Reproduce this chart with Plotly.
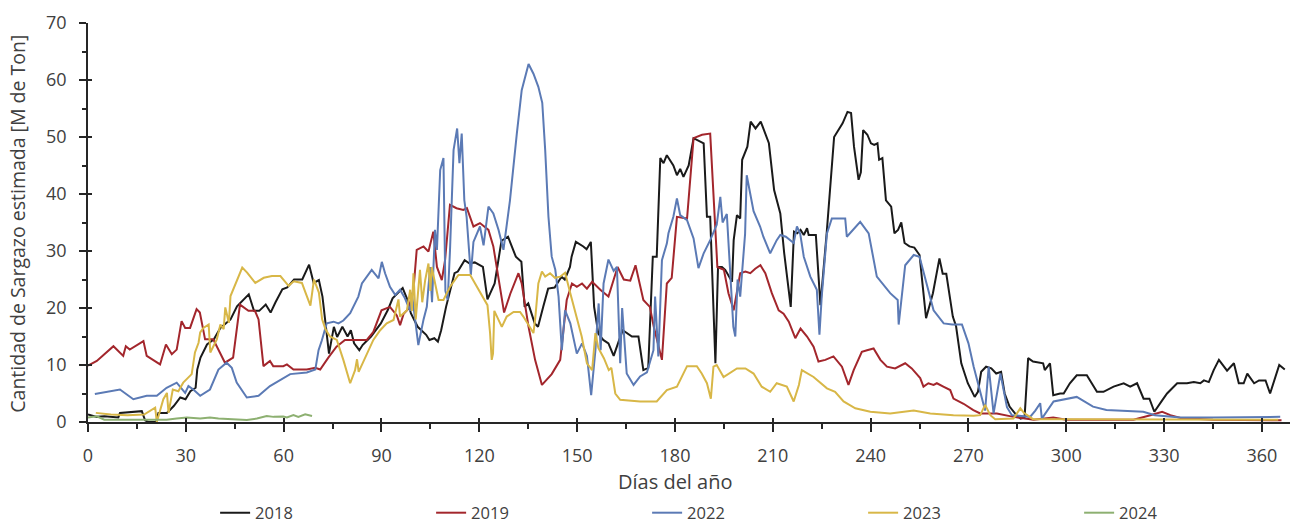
import plotly.graph_objects as go

# ---------------- data (day of year, estimated sargassum [M ton]) ----------------
days_2018 = [0, 2.7, 5, 9.3, 9.8, 13, 16.5, 17.5, 18.5, 20.9, 21.6, 24.2, 26.3, 28.3, 29.9, 31.4, 33, 33.5, 34.5,
             36.5, 38.6, 40.6, 42.5, 43.7, 45.7, 47.3, 49.3, 50.9, 52.5, 54.5, 56, 57.5, 59.6, 61.1, 63.2, 65.7,
             67.8, 69.2, 70.8, 71.9, 73.9, 75.4, 76.4, 78, 79.6, 80.6, 81.6, 83.2, 84.2, 86.8, 89.8, 91.9, 93.4,
             96.5, 98, 99, 101.1, 103.7, 104.7, 106.2, 107.3, 108.3, 109.8, 112.4, 113.4, 115.5, 117, 118.6, 121.1,
             122.5, 124.7, 126.8, 128.8, 131.2, 132.9, 133.9, 135, 137, 138, 139.6, 141.1, 143.1, 145.2, 146.2,
             147.8, 148.3, 149.6, 151.9, 152.9, 154.2, 155.2, 156.5, 158, 159.6, 161.2, 162.9, 164, 166.8, 168.8,
             170.3, 171.8, 173.2, 174.4, 175.5, 176.5, 177.5, 179.5, 180.6, 181.6, 182.6, 184.2, 185.7, 187.8,
             188.8, 189.8, 190.8, 192.4, 193.2, 194.4, 195.4, 197.5, 198, 199, 200, 200.6, 202.2, 203.2, 204.7,
             206.3, 208.8, 210.4, 212.3, 213.5, 215.5, 216.5, 217.5, 218.5, 219.5, 220.5, 221, 223.2, 224.6, 226.5,
             228.8, 231.4, 232.9, 234, 234.9, 236.3, 237, 237.7, 239, 240.1, 241.1, 242.1, 242.6, 243.6, 244.7,
             246.3, 247.3, 248.4, 249.4, 250.4, 251.9, 253.4, 255, 256, 257, 259.1, 261.1, 262.1, 263.2, 265.2,
             266.2, 267.8, 269.8, 271.9, 272.9, 273.9, 275.4, 277, 278.5, 280, 281.1, 282.6, 284.7, 286, 287.2,
             288.3, 289.8, 292.9, 293.4, 295, 296, 298.1, 299.2, 301.1, 303.2, 306.3, 307.3, 309.4, 311.4, 312.5,
             314.5, 317.6, 319.6, 321.7, 323.7, 325.5, 327, 329.4, 330.9, 334, 337, 339.1, 341.1, 342.2, 343.7,
             345.2, 346.8, 349.3, 351.4, 352.9, 354.4, 355.5, 357.6, 359.1, 361.1, 362.5, 365.3, 367]
vals_2018 = [1.3, 0.9, 1.0, 0.8, 1.6, 1.7, 1.9, 0.3, 0, 0, 1.6, 1.6, 2.8, 4.3, 4.0, 5.4, 6, 9.2, 11.3,
             13.6, 14.5, 16.5, 17.5, 18, 20.3, 21.2, 22.4, 19.5, 19.5, 20.6, 19.2, 21, 23.3, 23.6, 25, 25,
             27.6, 24.4, 24.9, 22, 12, 16.7, 14.9, 16.7, 15, 16.1, 13.8, 12.6, 13.5, 15, 17.3, 19.6, 21.7,
             23.5, 21.4, 19.1, 16.7, 15.3, 14.4, 14.7, 14.1, 16.1, 20.2, 26.1, 26.4, 28.4, 27.8, 28, 27.2,
             21.5, 24.3, 31.8, 32.5, 29, 28.1, 20.2, 20.8, 17.3, 16.7, 20.2, 23.4, 23.6, 25.5, 25,
             27.2, 29, 31.6, 30.8, 30.3, 31.6, 20.2, 15.5, 14.4, 13.8, 11.6, 14.4, 16.1, 15, 15,
             9.1, 9.5, 29, 29, 46.3, 45.4, 46.8, 45, 43.3, 44.4, 43, 45, 49.8, 49.2,
             48.9, 36, 36, 10.3, 27.2, 27.2, 26.7, 24.6, 31.9, 36.3, 35.7, 46, 48.3, 52.7, 51.5,
             52.7, 48.9, 40.7, 36.6, 29.6, 20.2, 33.4, 33.1, 33.7, 32.8, 34, 32.8, 32.8, 20.5, 33,
             50, 52.4, 54.4, 54.2, 48.3, 42.5, 43.8, 51.2, 50.4, 48.9, 48.6, 48.9, 46, 46.3, 38.9,
             37.8, 33.1, 33.7, 35, 31.4, 30.8, 30.6, 29.3, 23.7, 18.2, 22.6, 28.7, 26, 26, 18.5,
             16.8, 10.3, 6.8, 4.4, 5.3, 8.8, 9.7, 9.4, 8.5, 8.8, 5, 2.7, 1.2, 0.6, 0.8,
             11.2, 10.6, 10.3, 9.1, 10.3, 4.7, 5, 5, 6.8, 8.2, 8.2, 7.3, 5.3, 5.3, 5.6,
             6.2, 6.8, 6.2, 6.8, 4.1, 4.1, 1.8, 3.8, 5, 6.8, 6.8, 7, 6.8, 7.3, 7,
             9.1, 10.9, 9, 10.3, 6.8, 6.8, 8.5, 6.8, 7.3, 7.3, 5, 10, 9.2]

days_2019 = [0, 2.7, 7.8, 10.8, 11.6, 12.8, 17, 18, 22.1, 23.9, 25.7, 27.2, 28.7, 29.8, 31.3, 33.3, 34.3, 35.9,
             38.4, 42, 44.5, 46.6, 49.2, 51.2, 52.3, 53.8, 55.8, 56.8, 59.9, 61, 63, 67.1, 69.7, 71.2, 73.7, 76.2,
             78.8, 85.5, 87.5, 90, 92.6, 94.7, 95.7, 96.8, 98.3, 99.8, 100.8, 102.9, 104.4, 105.9, 107, 108.5,
             109.5, 111, 113, 115.1, 116.2, 118.2, 120.2, 122.8, 124.3, 125.9, 127.6, 129.5, 132, 133, 135.1,
             137.1, 139.2, 142.2, 144.8, 146.8, 148.4, 149.9, 151.5, 153, 154.6, 157.1, 159.6, 162.4, 164.3,
             166.3, 167.9, 170.3, 172.3, 173.5, 176, 177.5, 179, 180.6, 183.7, 185.7, 188.3, 190.8, 192.3, 193,
             195, 196.4, 198, 200, 201.6, 203.1, 204.6, 206.2, 207.7, 209.7, 211.8, 213.3, 214.9, 216.9, 218.5,
             220.5, 222.5, 224, 226.1, 228.6, 231.2, 233.2, 234.8, 237.3, 238.9, 240.9, 243, 245, 247.5, 250.6,
             252.6, 255.2, 256.2, 257.7, 259.3, 260.3, 262.3, 264.4, 265.4, 268.5, 271.5, 273.6, 278.7, 283.8,
             290, 296, 300, 310, 320.6, 325.8, 329.4, 331.9, 335, 345, 355, 366]
vals_2019 = [9.9, 10.7, 13.3, 11.6, 13.3, 12.7, 14.2, 11.6, 10.1, 13.6, 11.9, 12.7, 17.7, 16.5, 16.5, 19.8, 19.2, 14.5,
             14.5, 10.4, 11.3, 20.6, 19.5, 19.5, 18, 9.8, 10.7, 9.8, 9.8, 10.1, 9.2, 9.2, 9.5, 9.2, 11.3, 13.2,
             14.4, 14.4, 15.8, 19.6, 20.2, 18.7, 17, 19, 19.9, 23.2, 30.2, 30.8, 29.9, 33.4, 27.2, 24.9,
             28.4, 38.1, 37.5, 37.2, 37.5, 34.3, 34.9, 33.7, 30.8, 24.9, 19.2, 22.5, 26.1, 24.3, 16.7,
             10.9, 6.5, 8.4, 10.9, 21.4, 24.3, 23.7, 24.3, 23.4, 24.6, 23.2, 22, 27.2, 25,
             24.8, 27.5, 21.4, 20.2, 16.7, 10.9, 24.3, 25.3, 36, 35.7, 49.8, 50.4, 50.6, 35, 27.2,
             26.7, 22.6, 19.6, 26.1, 26.4, 26.1, 26.9, 27.5, 26.1, 22.6, 19.6, 19, 17.6, 14.7, 16.4,
             15, 13.2, 10.6, 10.9, 11.5, 9.7, 6.5, 9.1, 12.3, 12.6, 12.9, 10.9, 9.7, 9.4, 10.3,
             9.4, 7.7, 6.2, 6.8, 6.5, 6.8, 6.2, 5.6, 4.1, 3.2, 2.1, 1.5, 1.5, 0.9,
             0.4, 0.8, 0.4, 0.4, 0.4, 1.2, 1.8, 1.2, 0.7, 0.4, 0.3, 0.3]

days_2022 = [2.1, 9.8, 13.9, 18, 21.1, 24.1, 27.2, 29.8, 30.8, 32.3, 34.4, 37.4, 40, 42.5, 44.1, 45.6, 48.7, 52.3,
             55.8, 62, 67.1, 69.7, 70.7, 71.7, 73.2, 75.3, 76.8, 78.3, 80.4, 82.9, 84, 85.5, 87, 89.1, 90.1, 91.1,
             92.6, 94.2, 95.7, 97.2, 98.8, 99.3, 100.3, 101.3, 102.9, 103.9, 104.9, 105.5, 106.4, 107, 108, 109,
             109.6, 110.3, 111, 112.1, 113.2, 113.9, 114.6, 115.4, 116.1, 116.8, 117.4, 118.2, 120.2, 121.3,
             122.8, 124.3, 125.9, 127.4, 129.4, 131.5, 133, 135.1, 136.6, 138.1, 139.3, 140.2, 141.2, 142.2,
             143.3, 144.3, 145.3, 146.3, 147.9, 149.9, 151.5, 153, 154.3, 155.6, 156.6, 157.2, 158.1, 159.6,
             161.2, 162.2, 163.2, 163.8, 165.2, 167.3, 169.3, 171.4, 173.4, 173.9, 174.9, 176, 177.5, 178,
             179.5, 180.6, 181.6, 183.7, 185.7, 187.2, 188.8, 190.8, 192.8, 193.9, 194.6, 195.9, 196.9, 197.9,
             198.5, 199.2, 200, 201.5, 202, 204.1, 206.1, 207.1, 209.2, 211.2, 212.3, 214, 216.4, 217.4, 218.4,
             219.5, 221.5, 223.5, 224.3, 225, 226.6, 228.1, 232.2, 232.7, 236.8, 239.4, 241.9, 246, 248.3, 248.6,
             250.6, 253.2, 255, 257.3, 259.3, 262.4, 265, 268, 270, 271.6, 273.6, 275.1, 276.2, 277.7, 279.8,
             281.8, 283.3, 288.9, 290.5, 292, 292.5, 296.1, 303.2, 308.2, 312.3, 323.6, 327.2, 335, 345, 355,
             365.6]
vals_2022 = [4.9, 5.7, 4.0, 4.6, 4.6, 6, 6.9, 5.1, 6.3, 5.7, 4.6, 5.7, 9.2, 10.4, 9.5, 6.9, 4.3, 4.6,
             6.3, 8.4, 8.7, 9.2, 12.6, 14.3, 17.3, 17.6, 17.3, 17.8, 19.1, 22, 24.3, 25.5, 26.7, 25.2, 28.1, 26.1,
             23.7, 22.3, 23.2, 21.7, 19.5, 22.6, 18.1, 13.5, 18, 20.2, 27.2, 21, 33.7, 30.2, 44.2, 46.3,
             23, 21.4, 30, 47.7, 51.5, 45.4, 50.6, 38.9, 36, 29.6, 25.8, 31.6, 34.3, 31,
             37.8, 36.6, 33.7, 30.2, 38.9, 50.6, 58.2, 62.8, 61.1, 58.8, 56, 47.7, 36, 29,
             26.7, 22, 12.6, 19.6, 17.3, 12, 13.8, 11.6, 4.7, 12.6, 20.8, 12.6, 24.3, 28.5,
             26.5, 27.2, 10.3, 20, 8.5, 6.5, 8, 8.7, 12.6, 22, 11.5, 28.4, 31.3, 33.1,
             36, 39.2, 36.3, 35.4, 32.2, 27, 29.6, 31.9, 34.6, 39.5, 35, 36.5, 25.5, 16.7,
             15, 25, 22, 33, 43.3, 37, 34.3, 32.5, 29.6, 31.9, 32.8, 32.5, 31.4, 34.3, 33,
             29, 25.5, 23.2, 15.3, 22, 33.1, 35.7, 35.7, 32.5, 35.1, 33.1, 25.5, 22.6, 21.4, 17.1,
             27.5, 29.3, 29, 23.7, 19.6, 17.3, 17.1, 17.1, 13.8, 9.7, 5, 2, 9.7, 1.5, 8.5,
             2.6, 1.2, 0.9, 2, 3.3, 0.6, 3.6, 4.4, 2.7, 2.1, 1.8, 1.2, 0.8, 0.8, 0.9,
             0.9]

days_2023 = [2.4, 7, 12.1, 17.2, 20.6, 21.1, 23.1, 24.2, 24.7, 26, 27.7, 29.2, 31.8, 32.8, 33.9, 34.4, 35.4, 37,
             37.5, 39.5, 40.6, 41.6, 42.1, 43.2, 43.7, 45.2, 47.3, 48.8, 51.3, 53.9, 56.4, 59, 61.5, 63.1, 65.6,
             66.7, 68.2, 69.3, 70.8, 71.8, 72.8, 74.2, 76.3, 78.3, 80.4, 81.9, 82.5, 83, 85.5, 87.5, 89.6, 91.6,
             93.7, 95.2, 95.7, 97.8, 98.8, 99.3, 99.8, 100.5, 101.8, 102.5, 103.4, 104.4, 105, 105.4, 107.5, 109,
             111, 113.6, 117.2, 120.2, 122.5, 123.3, 123.8, 124.2, 124.6, 126.9, 128.4, 130.5, 132.5, 133.5,
             136.6, 137.2, 138.1, 139.2, 140.2, 141.7, 143.2, 144.8, 146.3, 147.9, 149.9, 151.4, 153, 154.6,
             155.6, 156.5, 158.2, 159.7, 160.5, 161.7, 163.2, 169.3, 174.4, 177.5, 180.6, 182.6, 183.7, 186.7,
             188.2, 189.8, 191, 191.8, 192.8, 194.9, 197.4, 199, 201.6, 204.1, 206.6, 209.2, 211.2, 214.3, 216.4,
             218, 218.9, 222.5, 226.6, 229.1, 231.7, 235.3, 239.9, 246, 253.2, 258.3, 265.4, 271.6, 273.6, 275.1,
             276.7, 278.2, 283.8, 285.9, 287, 289.8, 300, 320, 340, 365]
vals_2023 = [1.6, 1.3, 1.2, 1.3, 2.5, 0, 4, 5.1, 1.6, 5.7, 5.4, 6.9, 8.4, 12.2, 13.9, 15.7, 16.5, 17.1,
             12.2, 14.5, 17.1, 16.3, 20.1, 17.4, 22.1, 24.2, 27.1, 26.2, 24.4, 25.3, 25.6, 25.6, 23.9, 24.7, 24.4,
             22.7, 20.4, 25, 22.7, 18, 16.3, 15, 14.4, 10.9, 6.8, 9.1, 11, 8.8, 12, 14.4, 16.1, 17.3,
             17.9, 21.5, 18.5, 19.6, 23.2, 19.5, 26.1, 18, 26.7, 21, 24.9, 27.8, 23, 27.2, 21.4, 21.4,
             23.7, 25.8, 25.8, 22.9, 20.5, 15.6, 10.9, 12, 19.5, 16.7, 18.5, 19.3, 19.3, 18.5,
             15.6, 18.5, 24.3, 26.4, 25.5, 26.1, 25.3, 25.5, 26.2, 22.6, 18.5, 15, 10.3, 9.1,
             15.6, 13, 11.2, 9.1, 9.5, 5, 3.9, 3.6, 3.6, 5.6, 6.2, 8.5, 9.8, 9.8,
             8.5, 6.8, 4.1, 9.7, 10, 7.9, 8.8, 9.4, 9.4, 8.5, 6.2, 5.3, 6.8, 6.2, 3.6,
             6.5, 9.1, 7.9, 5.9, 5.3, 3.6, 2.4, 1.8, 1.5, 2, 1.5, 1.2, 1.1, 1.2, 3,
             1.2, 0.5, 0.6, 2.4, 1.6, 0.5, 0.5, 0.5, 0.5, 0.4]

days_2024 = [0, 2.7, 5, 12, 18, 24.1, 27.2, 30.3, 34.4, 37.4, 40, 44.6, 48.7, 51.8, 54.8, 56.9, 59.9, 61, 63,
             64.5, 66.6, 68.7]
vals_2024 = [0.8, 1.0, 0.4, 0.4, 0.3, 0.4, 0.6, 0.8, 0.6, 0.8, 0.6, 0.4, 0.35, 0.6, 1.05, 0.9, 0.95, 0.8, 1.2,
             0.9, 1.35, 1.05]

series_names = ["2018", "2019", "2022", "2023", "2024"]
series_days = [days_2018, days_2019, days_2022, days_2023, days_2024]
series_vals = [vals_2018, vals_2019, vals_2022, vals_2023, vals_2024]
series_colors = ["#1a1a1a", "#A3262C", "#5B7AB5", "#D8B747", "#8DB071"]

x_ticks = [0, 30, 60, 90, 120, 150, 180, 210, 240, 270, 300, 330, 360]
y_ticks = [0, 10, 20, 30, 40, 50, 60, 70]
x_title = "Días del año"
y_title = "Cantidad de Sargazo estimada [M de Ton]"

X_RANGE = [0, 368.6]
Y_RANGE = [0, 70]
FONT = "Open Sans"
TXT = "#404040"
AX = "#262626"

fig = go.Figure()
for name, d, v, c in zip(series_names, series_days, series_vals, series_colors):
    fig.add_trace(go.Scatter(x=d, y=v, name=name, mode="lines",
                             line=dict(color=c, width=2), hoverinfo="skip"))

# dummy trace so the overlay axes (inner half of the crossing ticks) are drawn
fig.add_trace(go.Scatter(x=[None], y=[None], xaxis="x2", yaxis="y2",
                         showlegend=False, hoverinfo="skip"))

fig.update_layout(
    width=1301, height=525,
    margin=dict(l=88, r=11, t=23, b=103, autoexpand=False),
    paper_bgcolor="white", plot_bgcolor="white",
    font=dict(family=FONT, color=TXT, size=17),
    showlegend=True,
    legend=dict(orientation="h", x=0.555, xanchor="center", y=-0.228, yanchor="middle",
                font=dict(family=FONT, size=16.5, color=TXT),
                entrywidth=171, entrywidthmode="pixels", itemwidth=30,
                bgcolor="rgba(0,0,0,0)", traceorder="normal"),
    xaxis=dict(range=X_RANGE, tickvals=x_ticks, ticktext=[str(t) for t in x_ticks],
               showgrid=False, zeroline=False, showline=True, linecolor=AX, linewidth=1.5,
               ticks="outside", ticklen=8, tickwidth=1.5, tickcolor=AX, automargin=False,
               minor=dict(dtick=15, tick0=0, ticks="outside", ticklen=5, tickwidth=1.5, tickcolor=AX,
                          showgrid=False),
               tickfont=dict(size=18, color=TXT), ticklabelstandoff=9),
    yaxis=dict(range=Y_RANGE, tickvals=y_ticks, ticktext=[str(t) for t in y_ticks],
               showgrid=False, zeroline=False, showline=True, linecolor=AX, linewidth=1.5,
               ticks="outside", ticklen=7, tickwidth=1.5, tickcolor=AX, automargin=False,
               minor=dict(dtick=5, tick0=0, ticks="outside", ticklen=4, tickwidth=1.5, tickcolor=AX,
                          showgrid=False),
               tickfont=dict(size=18, color=TXT), ticklabelstandoff=9),
    xaxis2=dict(range=X_RANGE, overlaying="x", anchor="y", side="bottom", tickvals=x_ticks,
                showticklabels=False, showgrid=False, zeroline=False, showline=False,
                ticks="inside", ticklen=4, tickwidth=1.5, tickcolor=AX),
    yaxis2=dict(range=Y_RANGE, overlaying="y", anchor="x", side="left", tickvals=y_ticks,
                showticklabels=False, showgrid=False, zeroline=False, showline=False,
                ticks="inside", ticklen=4, tickwidth=1.5, tickcolor=AX),
    annotations=[
        dict(text=x_title, xref="paper", yref="paper", x=0.489, y=-0.1479, xanchor="center",
             yanchor="middle", showarrow=False, font=dict(family=FONT, size=20, color=TXT)),
        dict(text=y_title, xref="paper", yref="paper", x=-0.0582, y=0.497, xanchor="center",
             yanchor="middle", textangle=-90, showarrow=False, font=dict(family=FONT, size=19.5, color=TXT)),
    ],
)

fig.write_html("out.html")
